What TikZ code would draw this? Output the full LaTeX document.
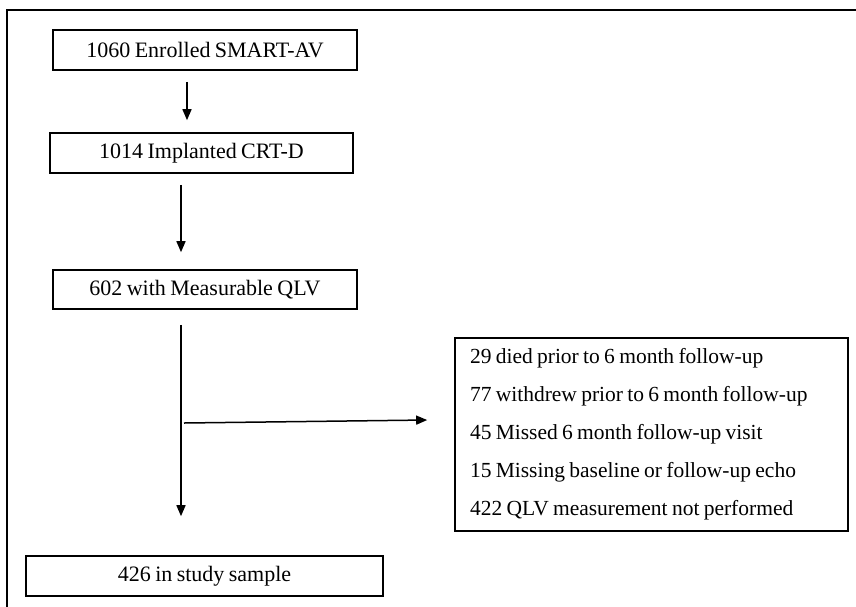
\documentclass[tikz,border=0pt]{standalone}
\usepackage{fontspec}
\setmainfont{Liberation Serif}[WordSpace=0.8]
\usetikzlibrary{arrows.meta,calc}
\begin{document}
\begin{tikzpicture}[x=1pt,y=-1pt,
  box/.style={draw,line width=1.6pt,minimum height=40pt,inner sep=0pt,font=\fontsize{22}{26}\selectfont},
  arr/.style={line width=1.5pt,-{Triangle[length=11pt,width=9pt]}}]
\useasboundingbox (0,0) rectangle (856,606);
\draw[line width=1.8pt] (7,612) -- (7,10) -- (862,10);
\node[box,minimum width=304pt] (b1) at (205,50) {1060 Enrolled SMART-AV};
\node[box,minimum width=303pt] (b2) at (201.5,153) {1014 Implanted CRT-D};
\node[box,minimum width=304pt,minimum height=39pt] (b3) at (205,289.5) {602 with Measurable QLV};
\node[box,minimum width=357pt] (b4) at (204.5,576) {426 in study sample};
\node[draw,line width=1.6pt,minimum width=393pt,minimum height=193pt,inner xsep=15pt,inner ysep=0pt,
  text width=363pt,align=left,font=\fontsize{21.5}{38}\selectfont] (ex) at (651.5,434.5)
  {\spaceskip=0.2em
   29 died prior to 6 month follow-up\\
   77 withdrew prior to 6 month follow-up\\
   45 Missed 6 month follow-up visit\\
   15 Missing baseline or follow-up echo\\
   422 QLV measurement not performed};
\draw[arr] ($(b1.south)+(-18,11)$) -- ($(b2.north)+(-14.5,-12)$);
\draw[arr] ($(b2.south)+(-20.5,11)$) -- ($(b3.north)+(-24,-17)$);
\draw[arr] ($(b3.south)+(-24,15)$) coordinate (v0) -- ($(b4.north)+(-23.5,-39)$);
\coordinate (hs) at (184,423);
\coordinate (he) at ($(ex.west)+(-27,-14.5)$);
\draw[arr] (hs) -- (he);
\end{tikzpicture}
\end{document}
